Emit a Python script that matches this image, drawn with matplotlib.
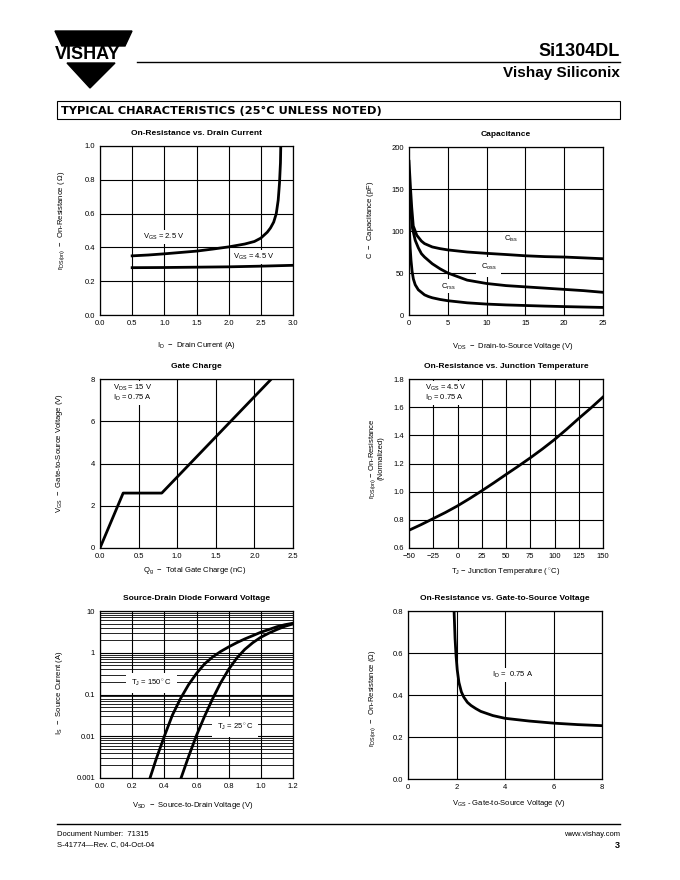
import matplotlib as mpl
mpl.use('Agg')

import numpy as np
import matplotlib.pyplot as plt
from matplotlib.patches import Polygon, Rectangle
from matplotlib.ticker import LogLocator, NullFormatter

plt.rcParams['font.family'] = ['Liberation Sans', 'DejaVu Sans']
plt.rcParams['mathtext.fontset'] = 'custom'
plt.rcParams['mathtext.rm'] = 'Liberation Sans'
plt.rcParams['mathtext.it'] = 'Liberation Sans:italic'

# On-resistance vs drain current
id_25 = [0.5, 0.75, 1.0, 1.25, 1.5, 1.75, 2.0, 2.25, 2.4, 2.5, 2.6, 2.65, 2.7, 2.74, 2.77, 2.79, 2.805, 2.81]
rds_25 = [0.350, 0.355, 0.362, 0.370, 0.378, 0.390, 0.403, 0.420, 0.435, 0.455, 0.49, 0.515, 0.55, 0.60, 0.68, 0.78, 0.90, 1.0]
id_45 = [0.5, 1.0, 1.5, 2.0, 2.5, 3.0]
rds_45 = [0.280, 0.281, 0.283, 0.285, 0.289, 0.294]

# Capacitance
vds_iss = [0, 0.2, 0.35, 0.55, 1.0, 1.6, 2, 3, 4, 5, 7.5, 10, 12.5, 15, 17.5, 20, 22.5, 25]
ciss = [183, 150, 128, 106, 95, 88, 85, 81, 79, 77.5, 75, 73.4, 72, 70.5, 69.5, 69, 68, 67]
vds_oss = [0, 0.2, 0.45, 0.8, 1.2, 1.6, 2, 3, 4, 5, 7.5, 10, 12.5, 15, 17.5, 20, 22.5, 25]
coss = [145, 125, 103, 89, 80, 73, 69, 61, 55, 50, 41.5, 37.5, 35, 33.5, 32, 30.5, 29, 27]
vds_rss = [0, 0.15, 0.26, 0.4, 0.56, 0.8, 1.2, 2, 2.5, 3, 4, 5, 7.5, 10, 12.5, 15, 17.5, 20, 22.5, 25]
crss = [117, 80, 65, 52, 43, 36, 30, 24, 22, 20.5, 18.5, 17, 14.5, 13, 12, 11.3, 10.6, 10, 9.5, 9]

# Gate charge
qg = [0, 0.3, 0.8, 2.22]
vgs_q = [0, 2.6, 2.6, 8.0]

# On-resistance vs junction temperature
tj = [-50, -37.5, -25, -12.5, 0, 12.5, 25, 37.5, 50, 62.5, 75, 87.5, 100, 112.5, 125, 137.5, 150]
rds_norm = [0.726, 0.766, 0.809, 0.852, 0.899, 0.951, 1.006, 1.063, 1.122, 1.18, 1.24, 1.303,
            1.37, 1.443, 1.52, 1.594, 1.672]

# Source-drain diode
vsd_150 = [0.311, 0.35, 0.40, 0.45, 0.50, 0.55, 0.60, 0.65, 0.70, 0.75, 0.80, 0.85, 0.90,
           0.95, 1.0, 1.05, 1.1, 1.15, 1.2]
is_150 = [0.001, 0.0029, 0.01, 0.032, 0.079, 0.17, 0.32, 0.54, 0.79, 1.07, 1.38, 1.74, 2.14,
          2.57, 3.1, 3.6, 4.2, 4.7, 5.1]
vsd_25 = [0.504, 0.55, 0.60, 0.65, 0.70, 0.75, 0.80, 0.85, 0.90, 0.95, 1.0, 1.05, 1.1, 1.15, 1.2]
is_25 = [0.001, 0.0032, 0.0105, 0.030, 0.079, 0.19, 0.40, 0.74, 1.2, 1.74, 2.35, 2.95, 3.6, 4.3, 4.9]

# On-resistance vs gate-to-source voltage
vgs_r = [1.9, 1.94, 1.98, 2.03, 2.1, 2.2, 2.3, 2.45, 2.6, 2.8, 3.0, 3.5, 4.0, 5.0, 6.0, 7.0, 8.0]
rds_v = [0.80, 0.67, 0.59, 0.52, 0.46, 0.415, 0.39, 0.365, 0.35, 0.335, 0.322, 0.302, 0.289,
         0.276, 0.266, 0.259, 0.254]

W, H = 680, 880
fig = plt.figure(figsize=(W / 100, H / 100), dpi=100)
fig.patch.set_facecolor('white')

LW = 2.0
BOX = dict(boxstyle='square,pad=0.25', fc='white', ec='none')


def add_ax(l, t, r, b):
    return fig.add_axes([l / W, 1 - b / H, (r - l) / W, (b - t) / H])


def setup(ax, title, xlim, ylim, xticks, xlabels, yticks, ylabels, xlab, ylab, xl_pos, yl_pos):
    ax.set_xlim(xlim)
    ax.set_ylim(ylim)
    ax.set_xticks(xticks)
    ax.set_xticklabels(xlabels)
    ax.set_yticks(yticks)
    ax.set_yticklabels(ylabels)
    ax.grid(True, which='major', color='black', lw=0.8)
    ax.set_axisbelow(True)
    ax.tick_params(which='both', length=0, labelsize=5.5, pad=3.5)
    for s in ax.spines.values():
        s.set_linewidth(0.9)
    ax.set_title(title, fontsize=6, fontweight='bold', pad=8)
    ax.set_xlabel(xlab, fontsize=5.5, va='center')
    ax.xaxis.set_label_coords(*xl_pos)
    ax.set_ylabel(ylab, fontsize=5.5, va='center', multialignment='center', linespacing=0.9)
    ax.yaxis.set_label_coords(*yl_pos)


# 1. On-resistance vs drain current
ax1 = add_ax(100, 146, 293, 315)
ax1.plot(id_25, rds_25, color='black', lw=LW)
ax1.plot(id_45, rds_45, color='black', lw=LW)
setup(ax1, 'On-Resistance vs. Drain Current', (0, 3), (0, 1),
      np.arange(0, 3.01, 0.5), ['%.1f' % v for v in np.arange(0, 3.01, 0.5)],
      np.arange(0, 1.01, 0.2), ['%.1f' % v for v in np.arange(0, 1.01, 0.2)],
      r'I$_{\rm D}$  $-$  Drain Current (A)',
      r'r$_{\rm DS(on)}$  $-$  On-Resistance ( $\Omega$)',
      (0.5, -0.183), (-0.2, 0.56))
ax1.text(0.67, 0.46, r'V$_{\rm GS}$ = 2.5 V', fontsize=5.5, va='center', bbox=BOX)
ax1.text(2.07, 0.345, r'V$_{\rm GS}$ = 4.5 V', fontsize=5.5, va='center', bbox=BOX)

# 2. Capacitance
ax2 = add_ax(409, 147, 603, 315)
ax2.plot(vds_iss, ciss, color='black', lw=LW)
ax2.plot(vds_oss, coss, color='black', lw=LW)
ax2.plot(vds_rss, crss, color='black', lw=LW)
setup(ax2, 'Capacitance', (0, 25), (0, 200),
      range(0, 26, 5), [str(v) for v in range(0, 26, 5)],
      range(0, 201, 50), [str(v) for v in range(0, 201, 50)],
      r'V$_{\rm DS}$  $-$  Drain-to-Source Voltage (V)',
      r'C  $-$  Capacitance (pF)',
      (0.536, -0.185), (-0.2, 0.565))
ax2.text(13.2, 90, r'C$_{\rm iss}$', fontsize=5.5, va='center', ha='center', bbox=BOX)
ax2.text(10.3, 57, r'C$_{\rm oss}$', fontsize=5.5, va='center', ha='center',
         bbox=dict(boxstyle='square,pad=0.6', fc='white', ec='none'))
ax2.text(5.0, 34, r'C$_{\rm rss}$', fontsize=5.5, va='center', ha='center', bbox=BOX)

# 3. Gate charge
ax3 = add_ax(100, 379, 293, 548)
ax3.plot(qg, vgs_q, color='black', lw=LW)
setup(ax3, 'Gate Charge', (0, 2.5), (0, 8),
      np.arange(0, 2.51, 0.5), ['%.1f' % v for v in np.arange(0, 2.51, 0.5)],
      range(0, 9, 2), [str(v) for v in range(0, 9, 2)],
      r'Q$_{\rm g}$  $-$  Total Gate Charge (nC)',
      r'V$_{\rm GS}$  $-$  Gate-to-Source Voltage (V)',
      (0.49, -0.136), (-0.21, 0.56))
ax3.text(0.17, 7.35, 'V$_{\\rm DS}$ = 15 V\nI$_{\\rm D}$ = 0.75 A', fontsize=5.5, va='center',
         linespacing=1.0, bbox=BOX)

# 4. On-resistance vs junction temperature
ax4 = add_ax(409, 379, 603, 548)
ax4.plot(tj, rds_norm, color='black', lw=LW)
setup(ax4, 'On-Resistance vs. Junction Temperature', (-50, 150), (0.6, 1.8),
      range(-50, 151, 25), ['\u221250', '\u221225'] + [str(v) for v in range(0, 151, 25)],
      np.arange(0.6, 1.81, 0.2), ['%.1f' % v for v in np.arange(0.6, 1.81, 0.2)],
      r'T$_{\rm J}$ $-$ Junction Temperature ($^\circ$C)',
      'r$_{\\rm DS(on)}$ $-$ On-Resistance\n(Normalized)',
      (0.5, -0.142), (-0.17, 0.53))
ax4.text(-33, 1.7, 'V$_{\\rm GS}$ = 4.5 V\nI$_{\\rm D}$ = 0.75 A', fontsize=5.5, va='center',
         linespacing=1.0, bbox=BOX)

# 5. Source-drain diode forward voltage
ax5 = add_ax(100, 611, 293, 778)
ax5.set_yscale('log')
ax5.plot(vsd_150, is_150, color='black', lw=LW)
ax5.plot(vsd_25, is_25, color='black', lw=LW)
setup(ax5, 'Source-Drain Diode Forward Voltage', (0, 1.2), (0.001, 10),
      np.arange(0, 1.21, 0.2), ['%.1f' % v for v in np.arange(0, 1.21, 0.2)],
      [0.001, 0.01, 0.1, 1, 10], ['0.001', '0.01', '0.1', '1', '10'],
      r'V$_{\rm SD}$  $-$  Source-to-Drain Voltage (V)',
      r'I$_{\rm S}$  $-$  Source Current (A)',
      (0.48, -0.162), (-0.21, 0.51))
ax5.yaxis.set_minor_locator(LogLocator(base=10, subs=range(2, 10)))
ax5.yaxis.set_minor_formatter(NullFormatter())
ax5.grid(True, which='minor', axis='y', color='black', lw=0.6)
ax5.text(0.32, 0.19, r'T$_{\rm J}$ = 150$^\circ$C', fontsize=5.5, va='center', ha='center',
         bbox=dict(boxstyle='square,pad=0.6', fc='white', ec='none'))
ax5.text(0.84, 0.017, r'T$_{\rm J}$ = 25$^\circ$C', fontsize=5.5, va='center', ha='center',
         bbox=dict(boxstyle='square,pad=0.6', fc='white', ec='none'))

# 6. On-resistance vs gate-to-source voltage
ax6 = add_ax(408, 611, 602, 779)
ax6.plot(vgs_r, rds_v, color='black', lw=LW)
setup(ax6, 'On-Resistance vs. Gate-to-Source Voltage', (0, 8), (0, 0.8),
      range(0, 9, 2), [str(v) for v in range(0, 9, 2)],
      np.arange(0, 0.81, 0.2), ['%.1f' % v for v in np.arange(0, 0.81, 0.2)],
      r'V$_{\rm GS}$ - Gate-to-Source Voltage (V)',
      r'r$_{\rm DS(on)}$  $-$  On-Resistance ($\Omega$)',
      (0.52, -0.143), (-0.18, 0.48))
ax6.text(4.3, 0.495, r'I$_{\rm D}$ =  0.75 A', fontsize=5.5, va='center', ha='center', bbox=BOX)

# page decorations in pixel coordinates
page = fig.add_axes([0, 0, 1, 1], zorder=-1)
page.set_xlim(0, W)
page.set_ylim(H, 0)
page.axis('off')

page.add_patch(Polygon([(55, 31), (132, 31), (125, 46), (62, 46)], closed=True, color='black'))
page.add_patch(Polygon([(67, 63), (115, 63), (90, 88)], closed=True, color='black'))
page.text(88, 54.5, 'VISHAY', fontsize=13, fontweight='bold', ha='center', va='center')

page.plot([137, 620], [62, 62], color='black', lw=1.0)
page.text(620, 51, 'Si1304DL', fontsize=13, fontweight='bold', ha='right', va='center')
page.text(620, 73, 'Vishay Siliconix', fontsize=11, fontweight='bold', ha='right', va='center')

page.add_patch(Rectangle((57, 101), 563, 18, fill=False, ec='black', lw=0.8))
page.text(61, 110.5, 'TYPICAL CHARACTERISTICS (25\u00b0C UNLESS NOTED)', fontsize=8.2,
          fontweight='bold', family='DejaVu Sans', ha='left', va='center')

page.plot([57, 620], [824, 824], color='black', lw=1.0)
page.text(57, 834, 'Document Number:  71315', fontsize=5.5, ha='left', va='center')
page.text(57, 845, 'S-41774\u2014Rev. C, 04-Oct-04', fontsize=5.5, ha='left', va='center')
page.text(620, 834, 'www.vishay.com', fontsize=5.5, ha='right', va='center')
page.text(620, 845, '3', fontsize=6.5, fontweight='bold', ha='right', va='center')

fig.savefig('out.png', dpi=100, facecolor='white')
